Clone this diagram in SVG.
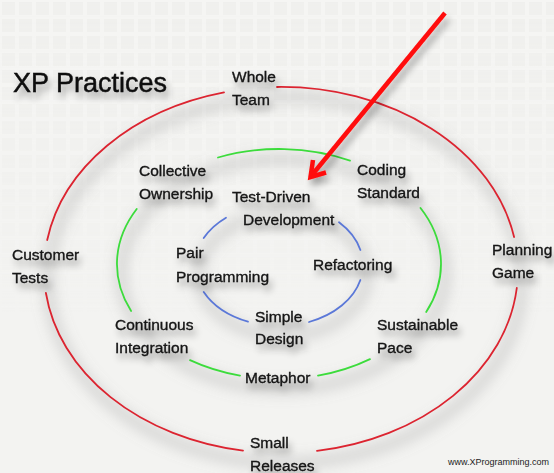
<svg xmlns="http://www.w3.org/2000/svg" width="554" height="473" viewBox="0 0 554 473">
<defs>
<style>
.t{font-family:"Liberation Sans",Arial,sans-serif;font-size:15.5px;fill:#141414;stroke:#141414;stroke-width:0.35px;}
.ttl{font-family:"Liberation Sans",Arial,sans-serif;font-size:27px;fill:#111;stroke:#111;stroke-width:0.5px;}
.url{font-family:"Liberation Sans",Arial,sans-serif;font-size:9px;fill:#222;}
.ring{fill:none;stroke-width:1.8;stroke-linecap:round;}
.red{stroke:#dc2430;}
.green{stroke:#3cdc3c;}
.blue{stroke:#5b78d8;}
.sh{fill:none;stroke:#8a8a8a;stroke-width:9;opacity:0.35;}
</style>
<filter id="blur" x="-20%" y="-20%" width="140%" height="140%"><feGaussianBlur stdDeviation="7"/></filter>
<filter id="tsh" x="-20%" y="-40%" width="140%" height="200%">
<feGaussianBlur in="SourceAlpha" stdDeviation="3.5"/>
<feOffset dx="3" dy="6" result="b"/>
<feComponentTransfer><feFuncA type="linear" slope="0.35"/></feComponentTransfer>
<feMerge><feMergeNode/><feMergeNode in="SourceGraphic"/></feMerge>
</filter>
<pattern id="grid" width="17" height="17" patternUnits="userSpaceOnUse">
<rect width="17" height="17" fill="#f8f8f6"/>
<rect x="2" y="2" width="13" height="13" fill="#ebebe8"/>
</pattern>
<linearGradient id="fade" x1="0" y1="0" x2="0" y2="1">
<stop offset="0" stop-color="#fff" stop-opacity="1"/>
<stop offset="0.55" stop-color="#fff" stop-opacity="0.5"/>
<stop offset="1" stop-color="#fff" stop-opacity="0"/>
</linearGradient>
<mask id="gm"><rect x="0" y="0" width="554" height="320" fill="url(#fade)"/></mask>
</defs>
<rect width="554" height="473" fill="#f3f3f1"/>
<rect width="554" height="320" fill="url(#grid)" mask="url(#gm)" opacity="0.4"/>

<g id="shadows" filter="url(#blur)" transform="translate(4,10)">
<ellipse class="sh" cx="281" cy="270" rx="237" ry="183"/>
<ellipse class="sh" cx="279" cy="264" rx="162" ry="115"/>
<ellipse class="sh" cx="279" cy="265" rx="84" ry="61"/>
</g>

<g id="connectors">
<g id="outer-ring" class="ring red">
<path d="M277,87 A237,183 0 0 1 514.1,237"/>
<path d="M516.8,288 A237,183 0 0 1 317,450.9"/>
<path d="M243,450.6 A237,183 0 0 1 45.9,293"/>
<path d="M47.2,240 A237,183 0 0 1 224,92.4"/>
</g>
<g id="middle-ring" class="ring green">
<path d="M218,157.5 A162,115 0 0 1 350,160.6"/>
<path d="M420.5,208 A162,115 0 0 1 426.2,312"/>
<path d="M370,359.1 A162,115 0 0 1 318,375.6"/>
<path d="M240,375.6 A162,115 0 0 1 190,360.1"/>
<path d="M131.1,311 A162,115 0 0 1 136.7,209"/>
</g>
<g id="inner-ring" class="ring blue">
<path d="M360.4,280 A84,61 0 0 1 309,322"/>
<path d="M248,321.7 A84,61 0 0 1 203.7,292"/>
<path d="M203.7,238 A84,61 0 0 1 226,217.7"/>
<path d="M339,222.3 A84,61 0 0 1 360.4,250"/>
</g>
<g id="arrow" filter="url(#tsh)" stroke="#ff0a0a" stroke-width="4.5" fill="none" stroke-linecap="butt">
<line x1="445" y1="13" x2="312" y2="175"/>
<path d="M313,160 L310.5,177 L326,172.5" stroke-linejoin="miter"/>
</g>
</g>

<g id="title" filter="url(#tsh)"><text class="ttl" x="13" y="92">XP Practices</text></g>
<g id="whole-team" filter="url(#tsh)"><text class="t" x="232" y="82">Whole</text><text class="t" x="232" y="105">Team</text></g>
<g id="collective-ownership" filter="url(#tsh)"><text class="t" x="139" y="176">Collective</text><text class="t" x="139" y="199">Ownership</text></g>
<g id="coding-standard" filter="url(#tsh)"><text class="t" x="357" y="175">Coding</text><text class="t" x="357" y="198">Standard</text></g>
<g id="test-driven-development" filter="url(#tsh)"><text class="t" x="232" y="202">Test-Driven</text><text class="t" x="243" y="225">Development</text></g>
<g id="pair-programming" filter="url(#tsh)"><text class="t" x="176" y="258">Pair</text><text class="t" x="176" y="282">Programming</text></g>
<g id="refactoring" filter="url(#tsh)"><text class="t" x="313" y="270">Refactoring</text></g>
<g id="simple-design" filter="url(#tsh)"><text class="t" x="255" y="322">Simple</text><text class="t" x="255" y="344">Design</text></g>
<g id="continuous-integration" filter="url(#tsh)"><text class="t" x="115" y="330">Continuous</text><text class="t" x="115" y="353">Integration</text></g>
<g id="sustainable-pace" filter="url(#tsh)"><text class="t" x="377" y="330">Sustainable</text><text class="t" x="377" y="353">Pace</text></g>
<g id="metaphor" filter="url(#tsh)"><text class="t" x="245" y="383">Metaphor</text></g>
<g id="customer-tests" filter="url(#tsh)"><text class="t" x="12" y="260">Customer</text><text class="t" x="12" y="283">Tests</text></g>
<g id="planning-game" filter="url(#tsh)"><text class="t" x="492" y="255">Planning</text><text class="t" x="492" y="278">Game</text></g>
<g id="small-releases" filter="url(#tsh)"><text class="t" x="250" y="448">Small</text><text class="t" x="250" y="471">Releases</text></g>
<g id="url"><text class="url" x="448" y="465">www.XProgramming.com</text></g>
</svg>
